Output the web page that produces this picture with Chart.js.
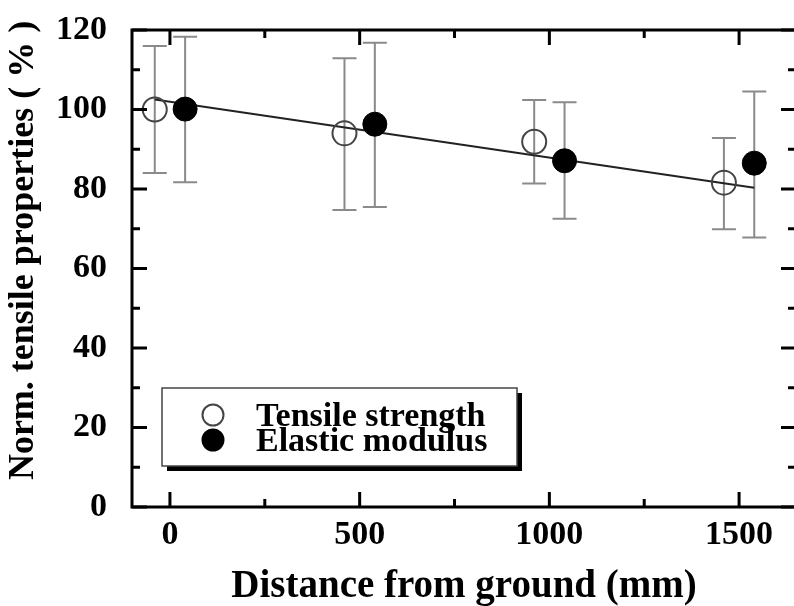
<!DOCTYPE html>
<html>
<head>
<meta charset="utf-8">
<script src="https://cdn.jsdelivr.net/npm/chart.js@4/dist/chart.umd.min.js"></script>
<style>
  html, body { margin: 0; padding: 0; overflow: hidden; background: #fff; }
  #wrap { width: 810px; height: 606px; }
</style>
</head>
<body>
<div id="wrap"><canvas id="myChart"></canvas></div>
<script>
// values
var distTensile = [-40, 460, 960, 1460];
var tensile = [100, 94, 91.9, 81.6];
var tensileLow = [84, 74.7, 81.4, 69.9];
var tensileHigh = [116, 112.9, 102.4, 92.8];

var distModulus = [40, 540, 1040, 1540];
var modulus = [100.1, 96.3, 87.1, 86.5];
var modulusLow = [81.7, 75.5, 72.5, 67.8];
var modulusHigh = [118.3, 116.8, 101.8, 104.5];

// linear fit line
var fitX = [-40, 1540];
var fitY = [102.5, 80.3];

var xTicks = [0, 500, 1000, 1500];
var xMinor = [250, 750, 1250];
var yTicks = [0, 20, 40, 60, 80, 100, 120];
var yMinor = [10, 30, 50, 70, 90, 110];

function pts(xs, ys) {
  return xs.map(function(x, i) { return {x: x, y: ys[i]}; });
}

Chart.defaults.font.family = "'Liberation Serif', 'Times New Roman', serif";
Chart.defaults.font.weight = 'bold';
Chart.defaults.color = '#000';

// error bars under the markers
var errorBars = {
  id: 'errorBars',
  beforeDatasetsDraw: function(chart) {
    var ctx = chart.ctx, xs = chart.scales.x, ys = chart.scales.y;
    ctx.save();
    ctx.strokeStyle = '#8a8a8a';
    ctx.lineWidth = 2;
    chart.data.datasets.forEach(function(ds) {
      if (!ds.errLow) return;
      ds.data.forEach(function(p, i) {
        var px = xs.getPixelForValue(p.x);
        var lo = ys.getPixelForValue(ds.errLow[i]);
        var hi = ys.getPixelForValue(ds.errHigh[i]);
        ctx.beginPath();
        ctx.moveTo(px, lo); ctx.lineTo(px, hi);
        ctx.moveTo(px - 12, lo); ctx.lineTo(px + 12, lo);
        ctx.moveTo(px - 12, hi); ctx.lineTo(px + 12, hi);
        ctx.stroke();
      });
    });
    ctx.restore();
  }
};

// frame with inward ticks on all four sides, plus boxed legend
var frame = {
  id: 'frame',
  afterDraw: function(chart) {
    var ctx = chart.ctx, a = chart.chartArea, xs = chart.scales.x, ys = chart.scales.y;
    ctx.save();
    ctx.strokeStyle = '#000';
    ctx.lineWidth = 3;
    ctx.strokeRect(a.left, a.top, a.right - a.left, a.bottom - a.top);
    function tickX(v, len) {
      var px = xs.getPixelForValue(v);
      ctx.beginPath();
      ctx.moveTo(px, a.bottom); ctx.lineTo(px, a.bottom - len);
      ctx.moveTo(px, a.top); ctx.lineTo(px, a.top + len);
      ctx.stroke();
    }
    function tickY(v, len) {
      var py = ys.getPixelForValue(v);
      ctx.beginPath();
      ctx.moveTo(a.left, py); ctx.lineTo(a.left + len, py);
      ctx.moveTo(a.right, py); ctx.lineTo(a.right - len, py);
      ctx.stroke();
    }
    xTicks.forEach(function(v) { tickX(v, 15); });
    xMinor.forEach(function(v) { tickX(v, 8); });
    yTicks.forEach(function(v) { tickY(v, 15); });
    yMinor.forEach(function(v) { tickY(v, 8); });

    // legend
    var bx = a.left + 30, by = a.top + 358, bw = 355, bh = 78;
    ctx.fillStyle = '#000';
    ctx.fillRect(bx + 5, by + 5, bw, bh);
    ctx.fillStyle = '#fff';
    ctx.fillRect(bx, by, bw, bh);
    ctx.strokeStyle = '#444';
    ctx.lineWidth = 1.5;
    ctx.strokeRect(bx, by, bw, bh);
    ctx.font = "bold 34px 'Liberation Serif', serif";
    ctx.textBaseline = 'middle';
    var rows = [chart.data.datasets[0], chart.data.datasets[1]];
    rows.forEach(function(ds, i) {
      var cy = by + 28 + i * 25;
      ctx.beginPath();
      ctx.arc(bx + 51, cy - 1, 10.5, 0, Math.PI * 2);
      ctx.fillStyle = ds.backgroundColor;
      ctx.fill();
      ctx.lineWidth = 2;
      ctx.strokeStyle = ds.borderColor;
      ctx.stroke();
      ctx.fillStyle = '#000';
      ctx.fillText(ds.label, bx + 94, cy + 1);
    });
    ctx.restore();
  }
};

var ctx = document.getElementById('myChart').getContext('2d');
var myChart = new Chart(ctx, {
  type: 'scatter',
  data: {
    datasets: [{
      label: 'Tensile strength',
      data: pts(distTensile, tensile),
      errLow: tensileLow,
      errHigh: tensileHigh,
      backgroundColor: 'rgba(255,255,255,0)',
      borderColor: '#444',
      borderWidth: 2,
      pointRadius: 12,
      order: 2
    }, {
      label: 'Elastic modulus',
      data: pts(distModulus, modulus),
      errLow: modulusLow,
      errHigh: modulusHigh,
      backgroundColor: '#000',
      borderColor: '#000',
      borderWidth: 1,
      pointRadius: 12,
      order: 1
    }, {
      type: 'line',
      label: 'fit',
      data: pts(fitX, fitY),
      borderColor: '#222',
      borderWidth: 2,
      pointRadius: 0,
      fill: false,
      order: 3
    }]
  },
  options: {
    responsive: true,
    maintainAspectRatio: false,
    animation: false,
    layout: { padding: { top: 30, right: 12, left: 0, bottom: 0 } },
    plugins: {
      legend: { display: false },
      tooltip: { enabled: false }
    },
    scales: {
      x: {
        type: 'linear',
        min: -100,
        max: 1650,
        afterBuildTicks: function(s) { s.ticks = xTicks.map(function(v) { return {value: v}; }); },
        afterFit: function(s) { s.height = 99; s.paddingLeft = 0; s.paddingRight = 0; },
        grid: { display: false },
        border: { display: false },
        ticks: {
          font: { size: 34, weight: 'bold' }, padding: 0, maxRotation: 0, autoSkip: false,
          callback: function(v) { return String(v); }
        },
        title: {
          display: true,
          text: 'Distance from ground (mm)',
          font: { size: 39, weight: 'bold', lineHeight: 1 },
          padding: { top: 0, bottom: 0 }
        }
      },
      y: {
        min: 0,
        max: 120,
        afterBuildTicks: function(s) { s.ticks = yTicks.map(function(v) { return {value: v}; }); },
        afterFit: function(s) { s.width = 132; s.paddingTop = 0; s.paddingBottom = 0; },
        grid: { display: false },
        border: { display: false },
        ticks: {
          font: { size: 34, weight: 'bold' }, padding: 17, autoSkip: false,
          callback: function(v) { return String(v); }
        },
        title: {
          display: true,
          // leading spaces nudge the rotated title upward like the original
          text: '    Norm. tensile properties ( % )',
          font: { size: 36, weight: 'bold', lineHeight: 1 },
          padding: { top: 6, bottom: 0 }
        }
      }
    }
  },
  plugins: [errorBars, frame]
});
</script>
</body>
</html>
